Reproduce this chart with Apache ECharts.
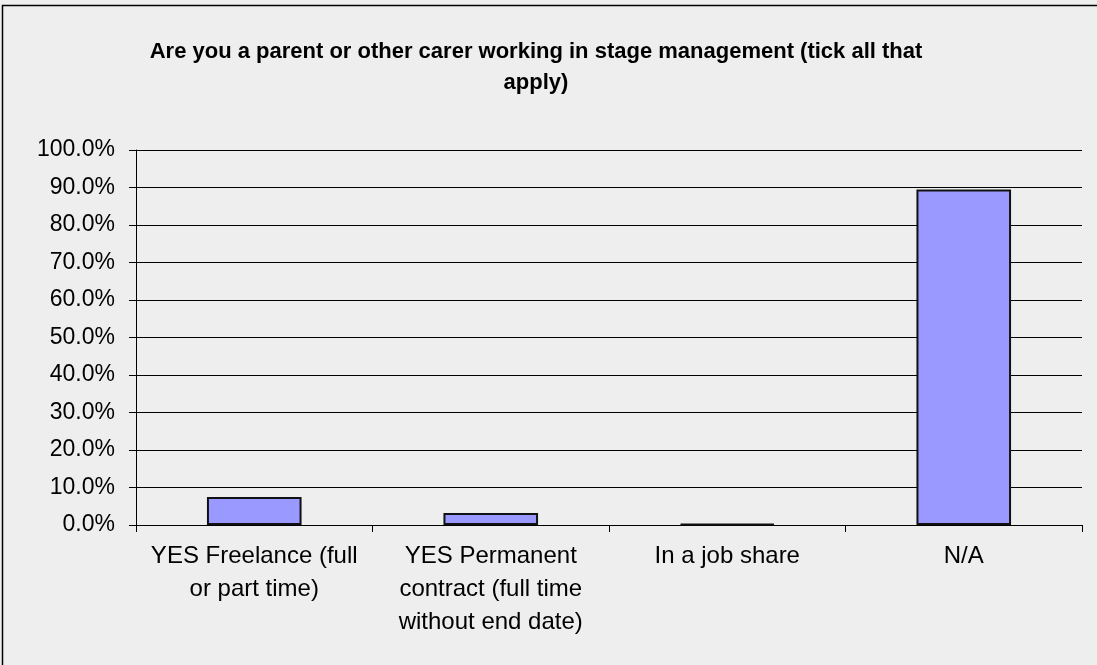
<!DOCTYPE html>
<html><head><meta charset="utf-8">
<script src="https://cdn.jsdelivr.net/npm/echarts@6/dist/echarts.min.js"></script>
<style>html,body{margin:0;padding:0;background:#eeeeee;}#c{width:1097px;height:665px;}</style>
</head><body><div id="c"></div>
<script>
const categories = ['YES Freelance (full\nor part time)', 'YES Permanent\ncontract (full time\nwithout end date)', 'In a job share', 'N/A'];
const values = [7.5, 3.2, 0.3, 89.5];
const yTicks = { min: 0, max: 100, interval: 10 };
const titleText = 'Are you a parent or other carer working in stage management (tick all that\napply)';

const chart = echarts.init(document.getElementById('c'));
chart.setOption({
  backgroundColor: '#eeeeee',
  animation: false,
  title: {
    text: titleText, left: 531, top: 31, textAlign: 'center',
    textStyle: { fontFamily: 'Liberation Sans', fontSize: 22, fontWeight: 'bold', color: '#000', lineHeight: 31 }
  },
  graphic: [{ type: 'rect', shape: { x: 2.5, y: 5.5, width: 1200, height: 800 }, style: { fill: 'none', stroke: '#000', lineWidth: 1.5 }, silent: true }],
  grid: { left: 136, right: 15, top: 150, bottom: 140, containLabel: false },
  xAxis: {
    type: 'category', data: categories,
    axisLine: { lineStyle: { color: '#000', width: 1 } },
    axisTick: { show: true, alignWithLabel: false, length: 7, lineStyle: { color: '#000' } },
    axisLabel: { fontFamily: 'Liberation Sans', fontSize: 24, color: '#000', lineHeight: 33, margin: 15, interval: 0 }
  },
  yAxis: {
    type: 'value', min: yTicks.min, max: yTicks.max, interval: yTicks.interval,
    axisLine: { show: true, lineStyle: { color: '#000' } },
    axisTick: { show: true, length: 7, lineStyle: { color: '#000' } },
    splitLine: { lineStyle: { color: '#000', width: 1 } },
    axisLabel: { fontFamily: 'Liberation Sans', fontSize: 23, color: '#000', margin: 21, formatter: v => v.toFixed(1) + '%' }
  },
  series: [{
    type: 'bar', data: values, barWidth: '40%',
    itemStyle: { color: '#9999ff', borderColor: '#111', borderWidth: 2 }
  }]
});
</script></body></html>
